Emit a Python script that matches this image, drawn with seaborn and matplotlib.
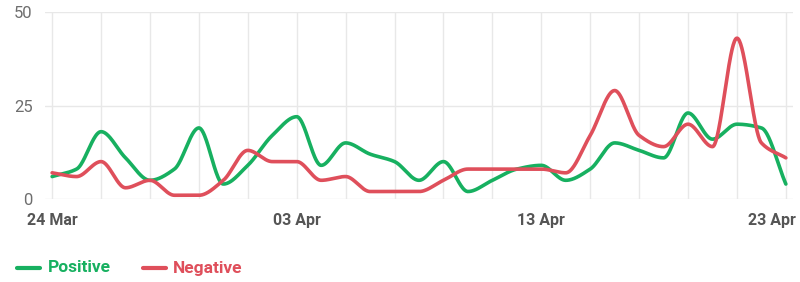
import numpy as np
import pandas as pd
import matplotlib
matplotlib.use("Agg")
import matplotlib.pyplot as plt
import matplotlib.transforms as mtransforms
import seaborn as sns

dates = pd.date_range("2024-03-24", "2024-04-23", freq="D")
positive = [6, 8, 18, 11, 5, 8, 19, 4, 9, 17, 22, 9, 15, 12, 10, 5, 10, 2, 5, 8, 9, 5, 8, 15, 13, 11, 23, 16, 20, 19, 4]
negative = [7, 6, 10, 3, 5, 1, 1, 5, 13, 10, 10, 5, 6, 2, 2, 2, 5, 8, 8, 8, 8, 7, 17, 29, 17, 14, 20, 14, 43, 15, 11]
tick_labels = ["24 Mar", "03 Apr", "13 Apr", "23 Apr"]

GREEN = "#17b060"
RED = "#df4f5b"


def pchip(x, y, xs):
    x = np.asarray(x, float); y = np.asarray(y, float)
    h = np.diff(x); d = np.diff(y) / h
    m = np.zeros_like(y)
    for k in range(1, len(y) - 1):
        if d[k - 1] * d[k] > 0:
            w1 = 2 * h[k] + h[k - 1]; w2 = h[k] + 2 * h[k - 1]
            m[k] = (w1 + w2) / (w1 / d[k - 1] + w2 / d[k])
    m[0] = d[0]; m[-1] = d[-1]
    idx = np.clip(np.searchsorted(x, xs) - 1, 0, len(x) - 2)
    t = (xs - x[idx]) / h[idx]
    h00 = 2 * t**3 - 3 * t**2 + 1; h10 = t**3 - 2 * t**2 + t
    h01 = -2 * t**3 + 3 * t**2; h11 = t**3 - t**2
    return h00 * y[idx] + h10 * h[idx] * m[idx] + h01 * y[idx + 1] + h11 * h[idx] * m[idx + 1]


sns.set_theme(style="white")
plt.rcParams["font.family"] = ["Roboto", "DejaVu Sans"]

fig = plt.figure(figsize=(8, 2.82), dpi=100)
ax = fig.add_axes([45 / 800, 1 - 199 / 282, 748 / 800, 187 / 282])

days = np.arange(len(dates), dtype=float)
xs = np.linspace(0, days[-1], 1200)
xs_dates = dates[0] + pd.to_timedelta(xs, unit="D")
rows = []
for name, vals in (("Positive", positive), ("Negative", negative)):
    ys = pchip(days, vals, xs)
    rows.append(pd.DataFrame({"date": xs_dates, "value": ys, "series": name}))
df = pd.concat(rows, ignore_index=True)

sns.lineplot(data=df, x="date", y="value", hue="series",
             palette={"Positive": GREEN, "Negative": RED},
             linewidth=2.6, ax=ax, legend=False, sort=False, estimator=None)

pad = pd.Timedelta(hours=7)
ax.set_xlim(dates[0] - pad, dates[-1] + pad)
ax.set_ylim(0, 50)
ax.set_yticks([0, 25, 50])
ax.set_xticks([dates[0], dates[10], dates[20], dates[30]])
ax.set_xticklabels(tick_labels)
ax.set_xticks(dates[::2], minor=True)
ax.grid(True, which="both", axis="x", color="#e8e8e8", linewidth=1)
ax.grid(True, which="major", axis="y", color="#e8e8e8", linewidth=1)
for s in ax.spines.values():
    s.set_visible(False)
ax.set_xlabel(""); ax.set_ylabel("")
ax.tick_params(axis="y", length=0, pad=9, labelsize=12, labelcolor="#6e6e6e")
ax.tick_params(axis="x", which="both", length=0, pad=10, labelsize=11.5, labelcolor="#555555")
xt = ax.get_xticklabels()
for lbl in xt:
    lbl.set_fontweight("bold")
xt[-1].set_transform(xt[-1].get_transform() + mtransforms.ScaledTranslation(-14 / 100, 0, fig.dpi_scale_trans))

# legend
y_leg = 1 - 268 / 282
fig.lines.append(plt.Line2D([17 / 800, 40 / 800], [y_leg, y_leg], color=GREEN, lw=3, transform=fig.transFigure))
fig.text(48 / 800, y_leg, "Positive", color=GREEN, fontsize=12.5, fontweight="bold", va="center")
fig.lines.append(plt.Line2D([143 / 800, 166 / 800], [y_leg, y_leg], color=RED, lw=3, transform=fig.transFigure))
fig.text(173 / 800, y_leg, "Negative", color=RED, fontsize=12.5, fontweight="bold", va="center")

fig.savefig("out.png", dpi=100)
